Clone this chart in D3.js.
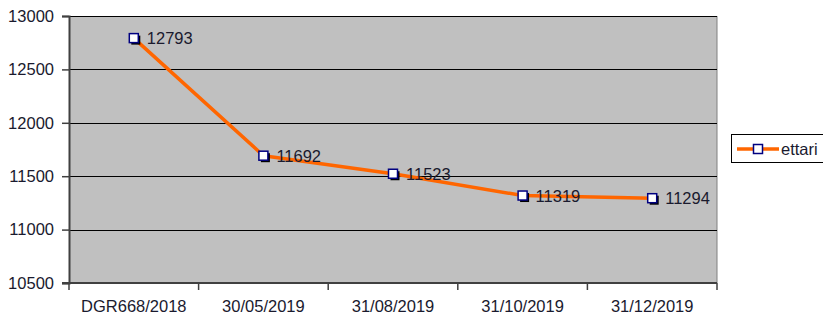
<!DOCTYPE html>
<html>
<head>
<meta charset="utf-8">
<script src="https://cdn.jsdelivr.net/npm/d3@7"></script>
<style>
  html, body { margin: 0; padding: 0; background: #fff; }
  svg { display: block; font-family: "Liberation Sans", Arial, sans-serif; }
</style>
</head>
<body>
<svg id="chart" width="823" height="321"></svg>
<script>
// Surface (ettari) recorded at each date
const categories = ["DGR668/2018", "30/05/2019", "31/08/2019", "31/10/2019", "31/12/2019"];
const ettari = [12793, 11692, 11523, 11319, 11294];
const yTicks = [10500, 11000, 11500, 12000, 12500, 13000];
const seriesName = "ettari";

const svg = d3.select("#chart");
const plot = { left: 69, right: 717, top: 16, bottom: 283 };

const x = d3.scaleBand().domain(categories).range([plot.left, plot.right]).padding(0);
const y = d3.scaleLinear().domain([10500, 13000]).range([plot.bottom, plot.top]);

// Plot background
svg.append("rect")
  .attr("x", plot.left).attr("y", plot.top)
  .attr("width", plot.right - plot.left).attr("height", plot.bottom - plot.top)
  .attr("fill", "#c0c0c0");

// Right border of the plot area
svg.append("line")
  .attr("x1", plot.right).attr("x2", plot.right)
  .attr("y1", plot.top).attr("y2", plot.bottom)
  .attr("stroke", "#808080").attr("stroke-width", 1);

// Horizontal gridlines
svg.append("g").selectAll("line")
  .data(yTicks.filter(t => t > 10500))
  .join("line")
  .attr("x1", plot.left).attr("x2", plot.right)
  .attr("y1", d => Math.round(y(d)) + 0.5).attr("y2", d => Math.round(y(d)) + 0.5)
  .attr("stroke", "#000").attr("stroke-width", 1);

// Y axis
const yAxis = svg.append("g")
  .attr("transform", `translate(${plot.left},0)`)
  .call(d3.axisLeft(y).tickValues(yTicks).tickSize(7).tickPadding(8).tickFormat(d3.format("d")));
yAxis.select(".domain").attr("stroke", "#404040").attr("stroke-width", 2);
yAxis.selectAll(".tick line").attr("stroke", "#404040").attr("stroke-width", 1.5);
yAxis.selectAll("text").attr("font-size", 16.5).attr("fill", "#1a1a2e")
  .attr("font-family", "'Liberation Sans', Arial, sans-serif");

// X axis, ticks between categories
const xAxisG = svg.append("g");
xAxisG.append("line")
  .attr("x1", plot.left - 7).attr("x2", plot.right)
  .attr("y1", plot.bottom).attr("y2", plot.bottom)
  .attr("stroke", "#404040").attr("stroke-width", 2);
const boundaries = categories.map(c => x(c)).concat([plot.right]);
xAxisG.selectAll("line.tick")
  .data(boundaries)
  .join("line")
  .attr("class", "tick")
  .attr("x1", d => d).attr("x2", d => d)
  .attr("y1", plot.bottom).attr("y2", plot.bottom + 7)
  .attr("stroke", "#404040").attr("stroke-width", 1.5);
xAxisG.selectAll("text")
  .data(categories)
  .join("text")
  .attr("x", d => x(d) + x.bandwidth() / 2)
  .attr("y", 312)
  .attr("text-anchor", "middle")
  .attr("font-size", 16.5)
  .attr("fill", "#1a1a2e")
  .text(d => d);

// Series line
const cx = (d, i) => x(categories[i]) + x.bandwidth() / 2;
const line = d3.line().x((d, i) => cx(d, i)).y(d => y(d));
svg.append("path")
  .datum(ettari)
  .attr("d", line)
  .attr("fill", "none")
  .attr("stroke", "#ff6600")
  .attr("stroke-width", 3.5)
  .attr("stroke-linejoin", "round");

// Markers with drop shadow
const ms = 9;
const markers = svg.append("g").selectAll("g").data(ettari).join("g")
  .attr("transform", (d, i) => `translate(${cx(d, i)},${y(d)})`);
markers.append("rect")
  .attr("x", -ms / 2 + 2).attr("y", -ms / 2 + 2)
  .attr("width", ms).attr("height", ms)
  .attr("fill", "#000");
markers.append("rect")
  .attr("x", -ms / 2).attr("y", -ms / 2)
  .attr("width", ms).attr("height", ms)
  .attr("fill", "#fff").attr("stroke", "#000080").attr("stroke-width", 1.5);

// Value labels
svg.append("g").selectAll("text").data(ettari).join("text")
  .attr("x", (d, i) => cx(d, i) + 13)
  .attr("y", d => y(d) + 6)
  .attr("font-size", 16.5)
  .attr("fill", "#1a1a2e")
  .text(d => d);

// Legend
const legend = svg.append("g");
legend.append("rect")
  .attr("x", 731.5).attr("y", 134.5)
  .attr("width", 100).attr("height", 28)
  .attr("fill", "#fff").attr("stroke", "#000").attr("stroke-width", 1);
legend.append("line")
  .attr("x1", 737).attr("x2", 779)
  .attr("y1", 149).attr("y2", 149)
  .attr("stroke", "#ff6600").attr("stroke-width", 3.5);
legend.append("rect")
  .attr("x", 753.5).attr("y", 144.5)
  .attr("width", ms).attr("height", ms)
  .attr("fill", "#fff").attr("stroke", "#000080").attr("stroke-width", 1.5);
legend.append("text")
  .attr("x", 781).attr("y", 155)
  .attr("font-size", 16.5)
  .attr("fill", "#1a1a2e")
  .text(seriesName);
</script>
</body>
</html>
